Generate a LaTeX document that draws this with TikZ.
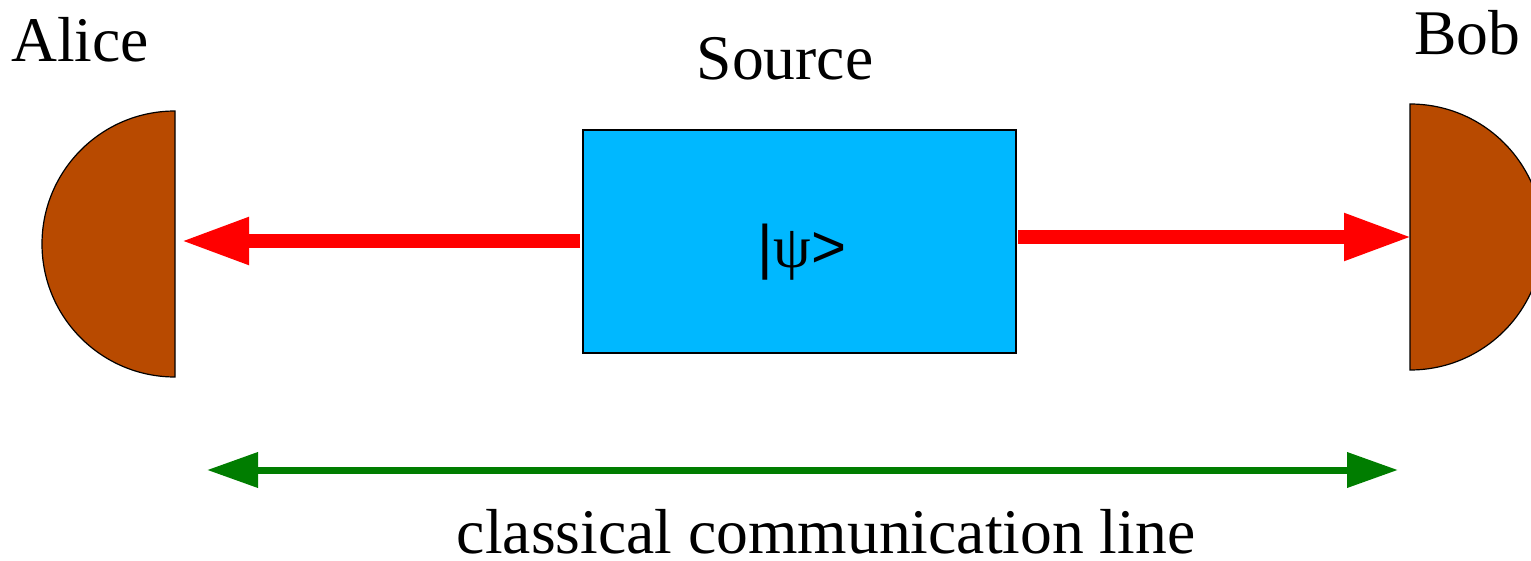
\documentclass[tikz,border=0pt]{standalone}
\usepackage{fontspec}
\setmainfont{Liberation Serif}
\newfontfamily\psifont{Liberation Sans}
\usetikzlibrary{arrows.meta}
\definecolor{detbrown}{RGB}{184,74,0}
\definecolor{srcblue}{RGB}{0,184,255}
\definecolor{beamred}{RGB}{255,0,0}
\definecolor{linegreen}{RGB}{0,125,0}
\tikzset{
  lbl/.style={font=\fontsize{31.8pt}{36pt}\selectfont, inner sep=0pt, anchor=base},
  detector/.style={fill=detbrown, draw=black, line width=0.6pt},
  beam/.style={beamred, line width=7pt, -{Triangle[length=34pt,width=22pt]}},
  classical/.style={linegreen, line width=3.5pt, {Triangle[length=25.5pt,width=17pt]}-{Triangle[length=25.5pt,width=17pt]}},
}
\begin{document}
\begin{tikzpicture}[x=0.5pt,y=-0.5pt]
\useasboundingbox (0,0) rectangle (1531,561);
\clip (0,0) rectangle (1531,561);
% detectors
\draw[detector] (175,111) arc[start angle=270, end angle=90, radius=133] -- cycle;
\draw[detector] (1410,104) arc[start angle=-90, end angle=90, radius=133] -- cycle;
\coordinate (alicein) at (181,241);
\coordinate (bobin) at (1412,237);
% source
\node[draw=black, fill=srcblue, line width=0.6pt, minimum width=216.5pt, minimum height=111.5pt, inner sep=0pt] (src) at (799.5,241.5) {};
\node[font=\psifont\fontsize{30pt}{33pt}\selectfont, inner sep=0pt] (psi) at (802,252) {|{\rmfamily ψ}>};
% labels
\node[lbl] (alice) at (80,62) {Alice};
\node[lbl] (source) at (785,80) {Source};
\node[lbl] (bob) at (1467,55) {Bob};
\node[lbl] (cl) at (826,553) {classical communication line};
% beams
\coordinate (srcL) at (580,241);
\coordinate (srcR) at (1018,237);
\draw[beam, line cap=butt] (srcL) -- (alicein);
\draw[beam, line cap=butt] (srcR) -- (bobin);
% classical line
\coordinate (clL) at (207,470);
\coordinate (clR) at (1398,470);
\draw[classical] (clL) -- (clR);
\end{tikzpicture}
\end{document}
